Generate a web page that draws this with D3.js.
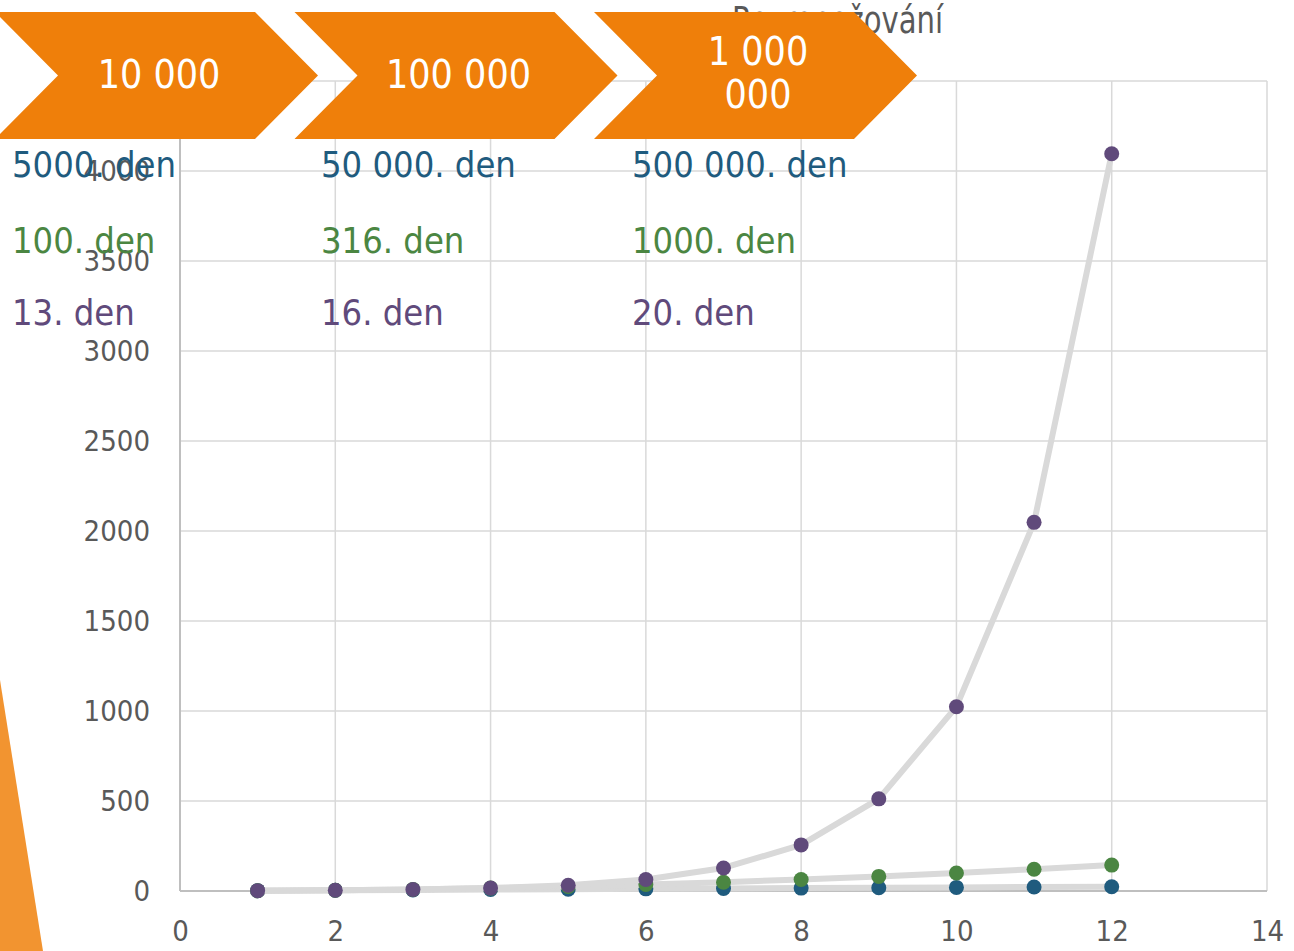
<!DOCTYPE html>
<html><head><meta charset="utf-8">
<title>Rozmnožování</title>
<script src="https://cdn.jsdelivr.net/npm/d3@7/dist/d3.min.js"></script>
<style>
body { margin: 0; background: #fff; }
text { font-family: "DejaVu Sans Condensed", "DejaVu Sans", sans-serif; }
</style>
</head>
<body>
<script>

// data
var days = [1, 2, 3, 4, 5, 6, 7, 8, 9, 10, 11, 12];
var blueValues = [2, 4, 6, 8, 10, 12, 14, 16, 18, 20, 22, 24];
var greenValues = [1, 4, 9, 16, 25, 36, 49, 64, 81, 100, 121, 144];
var purpleValues = [2, 4, 8, 16, 32, 64, 128, 256, 512, 1024, 2048, 4096];

var xTicks = [0, 2, 4, 6, 8, 10, 12, 14];
var yTicks = [0, 500, 1000, 1500, 2000, 2500, 3000, 3500, 4000, 4500];

var title = "Rozmnožování";
var chevronLabels = [["10 000"], ["100 000"], ["1 000", "000"]];
var blueDays = ["5000. den", "50 000. den", "500 000. den"];
var greenDays = ["100. den", "316. den", "1000. den"];
var purpleDays = ["13. den", "16. den", "20. den"];

var width = 1294;
var height = 951;
var svg = d3.select("body").append("svg").attr("width", width).attr("height", height);

var x = d3.scaleLinear().domain([0, 14]).range([180, 1267]);
var y = d3.scaleLinear().domain([0, 4500]).range([891, 81]);

var grey = "#595959";
var colors = {blue: "#1f5b7e", green: "#4b8642", purple: "#604a7b"};

// title (mostly hidden by the chevrons)
svg.append("text")
	.attr("x", 732).attr("y", 33)
	.attr("font-size", "38px")
	.attr("textLength", 211)
	.attr("lengthAdjust", "spacingAndGlyphs")
	.attr("fill", grey)
	.text(title);

// grid
svg.append("g").selectAll("line").data(yTicks.slice(1)).enter().append("line")
	.attr("x1", x(0)).attr("x2", x(14))
	.attr("y1", function(d) {return y(d);}).attr("y2", function(d) {return y(d);})
	.attr("stroke", "#d9d9d9").attr("stroke-width", 1.5);
svg.append("g").selectAll("line").data(xTicks.slice(1)).enter().append("line")
	.attr("x1", function(d) {return x(d);}).attr("x2", function(d) {return x(d);})
	.attr("y1", y(4500)).attr("y2", y(0))
	.attr("stroke", "#d9d9d9").attr("stroke-width", 1.5);
svg.append("line")
	.attr("x1", x(0)).attr("x2", x(0)).attr("y1", y(4500)).attr("y2", y(0))
	.attr("stroke", "#bfbfbf").attr("stroke-width", 2);
svg.append("line")
	.attr("x1", x(0)).attr("x2", x(14)).attr("y1", y(0)).attr("y2", y(0))
	.attr("stroke", "#bfbfbf").attr("stroke-width", 2);

// axes labels
var yAxis = svg.append("g").attr("transform", "translate(" + x(0) + ",0)")
	.call(d3.axisLeft(y).tickValues(yTicks).tickSize(0).tickPadding(30).tickFormat(d3.format("d")));
var xAxis = svg.append("g").attr("transform", "translate(0," + y(0) + ")")
	.call(d3.axisBottom(x).tickValues(xTicks).tickSize(0).tickPadding(29).tickFormat(d3.format("d")));
[yAxis, xAxis].forEach(function(a) {
	a.select(".domain").remove();
	a.selectAll("text").attr("font-size", "29px").attr("fill", grey)
		.style("font-family", "'DejaVu Sans Condensed', 'DejaVu Sans', sans-serif");
});

// series
var series = [
	{name: "blue", values: blueValues},
	{name: "green", values: greenValues},
	{name: "purple", values: purpleValues}
];
var line = d3.line()
	.x(function(d, i) {return x(days[i]);})
	.y(function(d) {return y(d);});

series.forEach(function(s) {
	var g = svg.append("g");
	g.append("path")
		.attr("d", line(s.values))
		.attr("fill", "none")
		.attr("stroke", "#d9d9d9")
		.attr("stroke-width", 6)
		.attr("stroke-linejoin", "round");
	g.selectAll("circle").data(s.values).enter().append("circle")
		.attr("cx", function(d, i) {return x(days[i]);})
		.attr("cy", function(d) {return y(d);})
		.attr("r", 7.5)
		.attr("fill", colors[s.name]);
});

// chevrons
var chev = svg.append("g").selectAll("g").data(chevronLabels).enter().append("g")
	.attr("transform", function(d, i) {return "translate(" + (-5 + i * 299.5) + ",0)";});
chev.append("path")
	.attr("d", "M0,12L260,12L323,75.5L260,139L0,139L63,75.5Z")
	.attr("fill", "#ef7f0a");
chev.append("text")
	.attr("x", 164)
	.attr("text-anchor", "middle")
	.attr("font-size", "39px")
	.attr("fill", "#fff")
	.selectAll("tspan").data(function(d) {return d;}).enter().append("tspan")
	.attr("x", 164)
	.attr("y", function(d, i, nodes) {return nodes.length == 1 ? 88 : 65 + i * 43;})
	.text(function(d) {return d;});

// day texts
var rows = [
	{texts: blueDays, color: colors.blue, y: 177},
	{texts: greenDays, color: colors.green, y: 253},
	{texts: purpleDays, color: colors.purple, y: 325}
];
var colX = [12, 321, 632];
rows.forEach(function(r) {
	svg.append("g").selectAll("text").data(r.texts).enter().append("text")
		.attr("x", function(d, i) {return colX[i];})
		.attr("y", r.y)
		.attr("font-size", "36px")
		.attr("fill", r.color)
		.text(function(d) {return d;});
});

// decorative orange wedge bottom-left
svg.append("path")
	.attr("d", "M0,680L43,951L0,951Z")
	.attr("fill", "#f29430");

</script>
</body></html>
